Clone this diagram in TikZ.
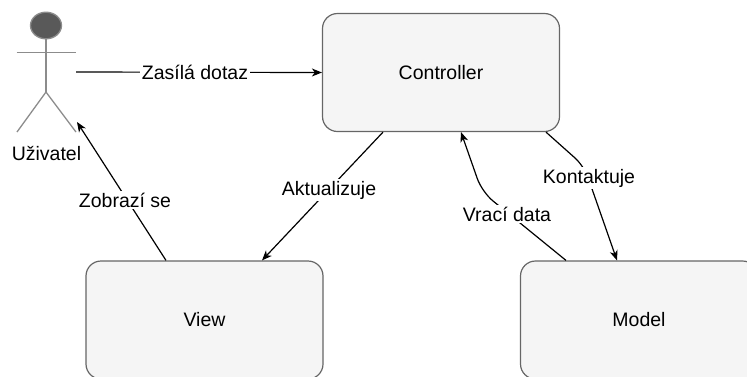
\documentclass[tikz,border=0pt]{standalone}
\usepackage{fontspec}
\setmainfont{Liberation Sans}
\usetikzlibrary{arrows.meta,calc}
\definecolor{boxfill}{HTML}{F5F5F5}
\definecolor{boxline}{HTML}{666666}
\definecolor{actline}{HTML}{8C8C8C}
\definecolor{headfill}{HTML}{595959}
\tikzset{
  comp/.style={draw=boxline, fill=boxfill, line width=1.2pt, rounded corners=15pt,
    minimum width=237pt, minimum height=118pt, inner sep=0pt,
    font=\fontsize{19.5}{23}\selectfont},
  conn/.style={draw=black, line width=1.2pt, -{Stealth[length=10pt,width=8pt,inset=3pt]}},
  lbl/.style={fill=white, inner sep=1.5pt, font=\fontsize{19.5}{23}\selectfont},
  actor/.style={draw=actline, line width=1.3pt}
}
\begin{document}
\begin{tikzpicture}[x=1pt,y=-1pt]
\useasboundingbox (0,0) rectangle (747,376);
% components
\node[comp] (ctrl) at (441,72.5) {Controller};
\node[comp] (view) at (204.5,320) {View};
\node[comp] (model) at (639,320) {Model};
% actor
\node[minimum width=60pt, minimum height=120pt, inner sep=0pt] (user) at (46,72) {};
\draw[actor, fill=headfill] (46,25.5) ellipse [x radius=15.5, y radius=13.3];
\draw[actor] (46,38.8) -- (46,92);
\draw[actor] (16.5,52.7) -- (76,52.7);
\draw[actor] (17,132) -- (46,92) -- (76,132);
\node[font=\fontsize{19.5}{23}\selectfont] (ulbl) at (46.5,153) {Uživatel};
\coordinate (userin) at (77,122);
% connectors
\draw[conn] (user.east) -- (ctrl.west);
\node[lbl] (l1) at (195,72) {Zasílá dotaz};
\draw[conn] ([xshift=-38.5pt]view.north) -- (userin);
\node[lbl] (l2) at (125,200) {Zobrazí se};
\draw[conn] ([xshift=-58pt]ctrl.south) -- ([xshift=57.5pt]view.north);
\node[lbl] (l3) at (329,190) {Aktualizuje};
\draw[conn, rounded corners=14pt] ([xshift=-73pt]model.north) -- (482,192) -- ([xshift=20pt]ctrl.south);
\node[lbl] (l4) at (507,214) {Vrací data};
\draw[conn, rounded corners=12pt] ([xshift=105pt]ctrl.south) -- (584,166) -- ([xshift=-22pt]model.north);
\node[lbl] (l5) at (589,178) {Kontaktuje};
\end{tikzpicture}
\end{document}
